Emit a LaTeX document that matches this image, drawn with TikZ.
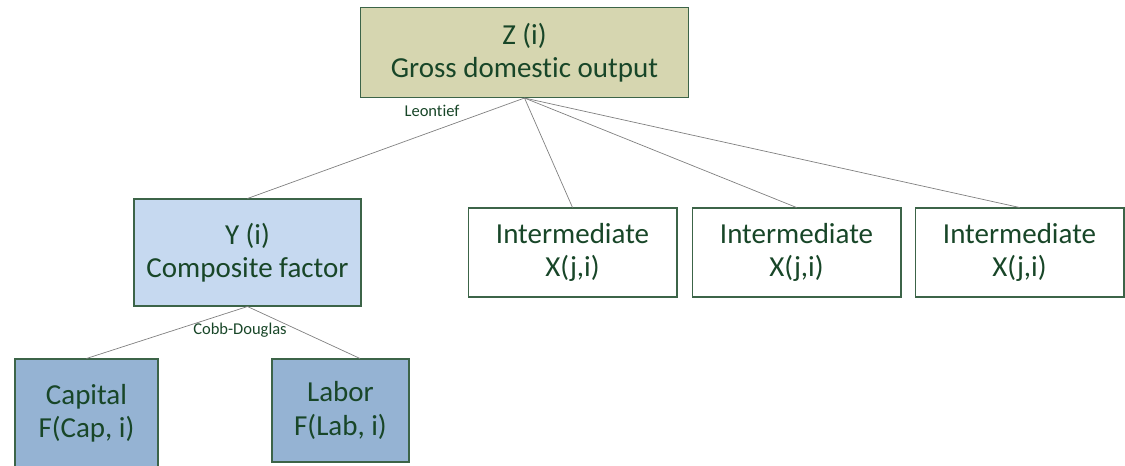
\documentclass[tikz,border=0pt]{standalone}
\usepackage{fontspec}
\setmainfont{Carlito}[Ligatures={NoCommon,NoRare,NoDiscretionary}]
\usetikzlibrary{calc}
\definecolor{textgreen}{RGB}{24,70,40}
\definecolor{edgegreen}{RGB}{60,100,72}
\definecolor{olivefill}{RGB}{214,214,176}
\definecolor{lightblue}{RGB}{198,217,240}
\definecolor{midblue}{RGB}{149,179,211}
\definecolor{linegray}{RGB}{128,128,128}

\begin{document}
\begin{tikzpicture}[x=0.02cm,y=-0.02cm,
  box/.style={draw=edgegreen,semithick,align=center,text=textgreen,inner sep=0pt,
    font=\fontsize{16.5}{19}\selectfont},
  link/.style={linegray,thin},
  tag/.style={text=textgreen,font=\fontsize{9.4}{11}\selectfont}]
  \useasboundingbox (0,0) rectangle (1125,466);
  % top level
  \node[box,fill=olivefill,minimum width=6.56cm,minimum height=1.8cm] (gdo) at (524.5,52.5)
    {Z (i)\\Gross domestic output};
  % second level
  \node[box,fill=lightblue,minimum width=4.54cm,minimum height=2.14cm] (comp) at (247.5,252.5)
    {Y (i)\\Composite factor};
  \node[box,minimum width=4.18cm,minimum height=1.78cm] (int1) at (572.5,252.5) {Intermediate\\X(j,i)};
  \node[box,minimum width=4.18cm,minimum height=1.78cm] (int2) at (796.5,252.5) {Intermediate\\X(j,i)};
  \node[box,minimum width=4.18cm,minimum height=1.78cm] (int3) at (1019.5,252.5) {Intermediate\\X(j,i)};
  % factors
  \node[box,fill=midblue,minimum width=2.86cm,minimum height=2.18cm] (cap) at (86.5,413.5)
    {Capital\\F(Cap, i)};
  \node[box,fill=midblue,minimum width=2.74cm,minimum height=2.06cm] (lab) at (340.5,410.5)
    {Labor\\F(Lab, i)};
  % connectors
  \draw[link] (gdo.south)--(comp.north);
  \draw[link] (gdo.south)--(int1.north);
  \draw[link] (gdo.south)--(int2.north);
  \draw[link] (gdo.south)--(int3.north);
  \draw[link] (comp.south)--(cap.north);
  \draw[link] (comp.south)--([xshift=0.39cm]lab.north);
  \node[tag] (leon) at (432,111) {Leontief};
  \node[tag] (cobb) at (240,330) {Cobb-Douglas};
\end{tikzpicture}
\end{document}
